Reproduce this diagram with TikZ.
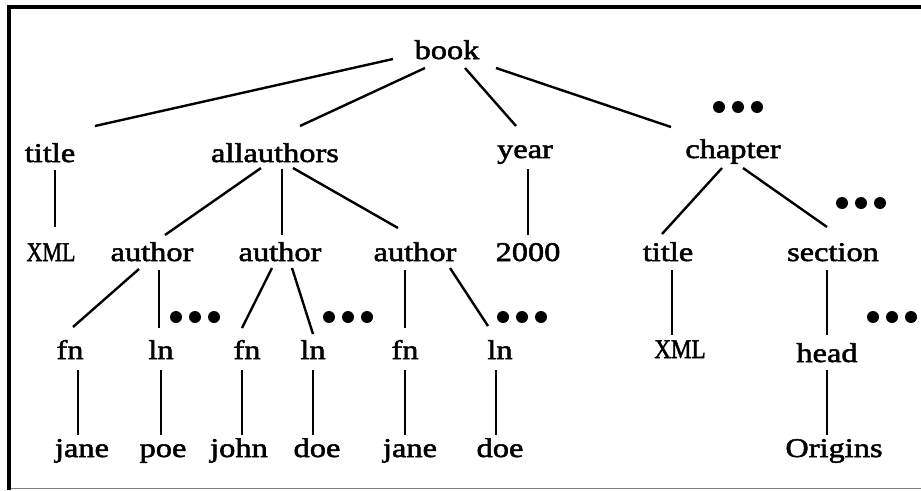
\documentclass[tikz,border=0pt]{standalone}
\usepackage{graphicx}
\usepackage{fontspec}
\setmainfont{Liberation Serif}[FakeStretch=1.2,FakeBold=2]
\usetikzlibrary{calc}
\newcommand\conn[4]{\draw[edge] ($(#1.base)+#2$) -- ($(#3.base)+#4$);}
\newcommand\tripledots[2]{\foreach \dx in {-19,0,19}{\fill ($(#1,#2)+(\dx,0)$) circle (6pt);}}
\newcommand\narrow[1]{\scalebox{0.68}[1]{#1}}
\begin{document}
\begin{tikzpicture}[x=1pt,y=-1pt,
  lbl/.style={inner sep=0pt,anchor=base,font=\fontsize{27}{30}\selectfont},
  edge/.style={line width=2.4pt,black}]
\useasboundingbox (0,0) rectangle (921,490);
% frame
\fill[black] (7,5) rectangle (11,490);
\fill[black] (7,5) rectangle (921,9);
\draw[gray,line width=1.2pt] (11,488.5) -- (921,488.5);
% row 1
\node[lbl] (book) at (447,59) {book};
% row 2
\node[lbl] (title) at (50,162) {title};
\node[lbl] (allauthors) at (275,162) {allauthors};
\node[lbl] (year) at (525,158) {year};
\node[lbl] (chapter) at (733,158) {chapter};
% row 3
\node[lbl] (xml) at (51,261) {\narrow{XML}};
\node[lbl] (author1) at (152,261) {author};
\node[lbl] (author2) at (280,261) {author};
\node[lbl] (author3) at (415,261) {author};
\node[lbl] (y2000) at (528,261) {2000};
\node[lbl] (title2) at (668,261) {title};
\node[lbl] (section) at (833,261) {section};
% row 4
\node[lbl] (fn1) at (70,359) {fn};
\node[lbl] (ln1) at (161,359) {ln};
\node[lbl] (fn2) at (247,359) {fn};
\node[lbl] (ln2) at (313,359) {ln};
\node[lbl] (fn3) at (405,359) {fn};
\node[lbl] (ln3) at (500,359) {ln};
\node[lbl] (xml2) at (680,358) {\scalebox{1.05}[1]{\narrow{XML}}};
\node[lbl] (head) at (827,362) {head};
% row 5
\node[lbl] (jane1) at (82,457) {jane};
\node[lbl] (poe) at (163,457) {poe};
\node[lbl] (john) at (239,457) {john};
\node[lbl] (doe1) at (317,457) {doe};
\node[lbl] (jane2) at (410,457) {jane};
\node[lbl] (doe2) at (500,457) {doe};
\node[lbl] (origins) at (834,457) {Origins};
% connectors
\conn{book}{(-54,0)}{title}{(45,-36)}
\conn{book}{(-22,9)}{allauthors}{(25,-36)}
\conn{book}{(18,9)}{year}{(-9,-32)}
\conn{book}{(49,9)}{chapter}{(-62,-31)}
\conn{title}{(5,8)}{xml}{(4,-34)}
\conn{allauthors}{(-14,6)}{author1}{(13,-26)}
\conn{allauthors}{(7,7)}{author2}{(2,-26)}
\conn{allauthors}{(18,6)}{author3}{(-17,-33)}
\conn{year}{(3,11)}{y2000}{(0,-26)}
\conn{chapter}{(-11,10)}{title2}{(-6,-27)}
\conn{chapter}{(10,10)}{section}{(-6,-34)}
\conn{author1}{(-13,8)}{fn1}{(3,-32)}
\conn{author1}{(7,9)}{ln1}{(-2,-31)}
\conn{author2}{(-8,7)}{fn2}{(-5,-31)}
\conn{author2}{(12,7)}{ln2}{(0,-25)}
\conn{author3}{(-10,9)}{fn3}{(0,-31)}
\conn{author3}{(35,7)}{ln3}{(-12,-33)}
\conn{title2}{(4,9)}{xml2}{(-8,-23)}
\conn{section}{(-6,9)}{head}{(0,-27)}
\conn{fn1}{(8,11)}{jane1}{(-4,-22)}
\conn{ln1}{(0,11)}{poe}{(-2,-22)}
\conn{fn2}{(-5,11)}{john}{(3,-22)}
\conn{ln2}{(0,11)}{doe1}{(-4,-22)}
\conn{fn3}{(0,11)}{jane2}{(-5,-22)}
\conn{ln3}{(-4,11)}{doe2}{(-4,-22)}
\conn{head}{(0,8)}{origins}{(-7,-22)}
% ellipsis dots
\tripledots{738}{107}
\tripledots{861}{203}
\tripledots{195}{317}
\tripledots{348}{317}
\tripledots{522}{317}
\tripledots{892}{317}
\end{tikzpicture}
\end{document}
